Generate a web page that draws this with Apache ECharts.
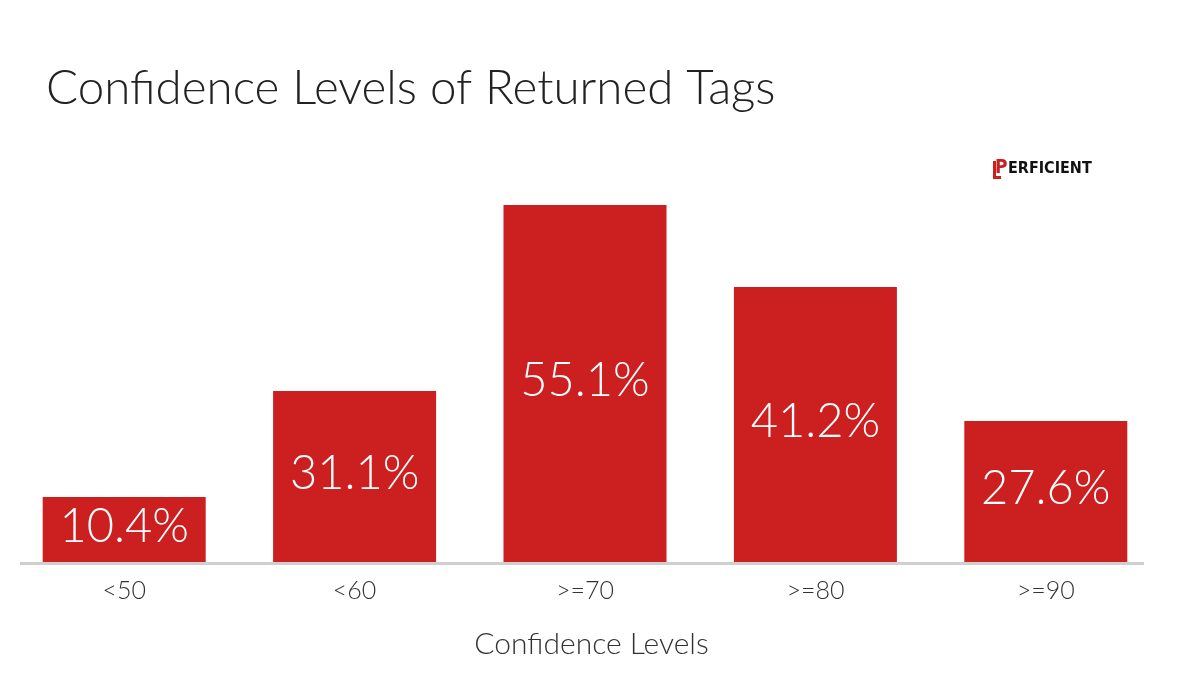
<!DOCTYPE html>
<html>
<head>
<meta charset="utf-8">
<script src="https://cdn.jsdelivr.net/npm/echarts@6/dist/echarts.min.js"></script>
<style>
html,body{margin:0;padding:0;background:#fff;}
#main{width:1183px;height:695px;}
</style>
</head>
<body>
<div id="main"></div>
<script>
// Data
var categories = ['<50', '<60', '>=70', '>=80', '>=90'];
// Bar lengths as drawn (hidden 0–100 scale)
var barLengths = [16.5, 43, 89.5, 69, 35.5];
// Percent labels printed on the bars
var barLabels = ['10.4%', '31.1%', '55.1%', '41.2%', '27.6%'];

var chart = echarts.init(document.getElementById('main'));
var font = 'Lato, "Open Sans", sans-serif';

chart.setOption({
  backgroundColor: '#ffffff',
  animation: false,
  title: {
    text: 'Confidence Levels of Returned Tags',
    left: 41,
    top: 60,
    textStyle: { fontFamily: font, fontWeight: 300, fontSize: 47.5, color: '#222222' }
  },
  grid: { left: 9, right: 22, top: 163, bottom: 132 },
  xAxis: {
    type: 'category',
    data: categories,
    name: 'Confidence Levels',
    nameLocation: 'middle',
    nameGap: 66,
    nameTextStyle: { fontFamily: font, fontWeight: 300, fontSize: 30, color: '#333333', padding: [0, 0, 0, 13] },
    axisLine: { show: false },
    axisTick: { show: false },
    axisLabel: { fontFamily: font, fontWeight: 300, fontSize: 25, color: '#333333', margin: 15 }
  },
  yAxis: {
    type: 'value',
    min: 0,
    max: 100,
    show: false,
    splitLine: { show: false }
  },
  graphic: [
    {
      type: 'rect',
      shape: { x: 20, y: 562, width: 1124, height: 3 },
      style: { fill: '#cfcfcf' },
      z: 10
    },
    {
      type: 'group',
      left: 993,
      top: 159,
      children: [
        { type: 'rect', shape: { x: 0, y: 2, width: 3, height: 18 }, style: { fill: '#cc1f20' } },
        { type: 'rect', shape: { x: 0, y: 17, width: 8, height: 3 }, style: { fill: '#cc1f20' } },
        { type: 'text', style: { x: 2, y: 0, text: 'P', fill: '#cc1f20', font: 'bold 19px "DejaVu Sans Condensed", "Liberation Sans Narrow", sans-serif' } },
        { type: 'text', style: { x: 15, y: 2, text: 'ERFICIENT', fill: '#111111', font: 'bold 16px "DejaVu Sans Condensed", "Liberation Sans Narrow", sans-serif' } }
      ]
    }
  ],
  series: [{
    type: 'bar',
    data: barLengths,
    barWidth: 163,
    itemStyle: { color: '#cc1f20' },
    label: {
      show: true,
      position: 'inside',
      offset: [0, -3],
      formatter: function (p) { return barLabels[p.dataIndex]; },
      fontFamily: font,
      fontWeight: 300,
      fontSize: 47,
      color: '#ffffff'
    }
  }]
});
</script>
</body>
</html>
